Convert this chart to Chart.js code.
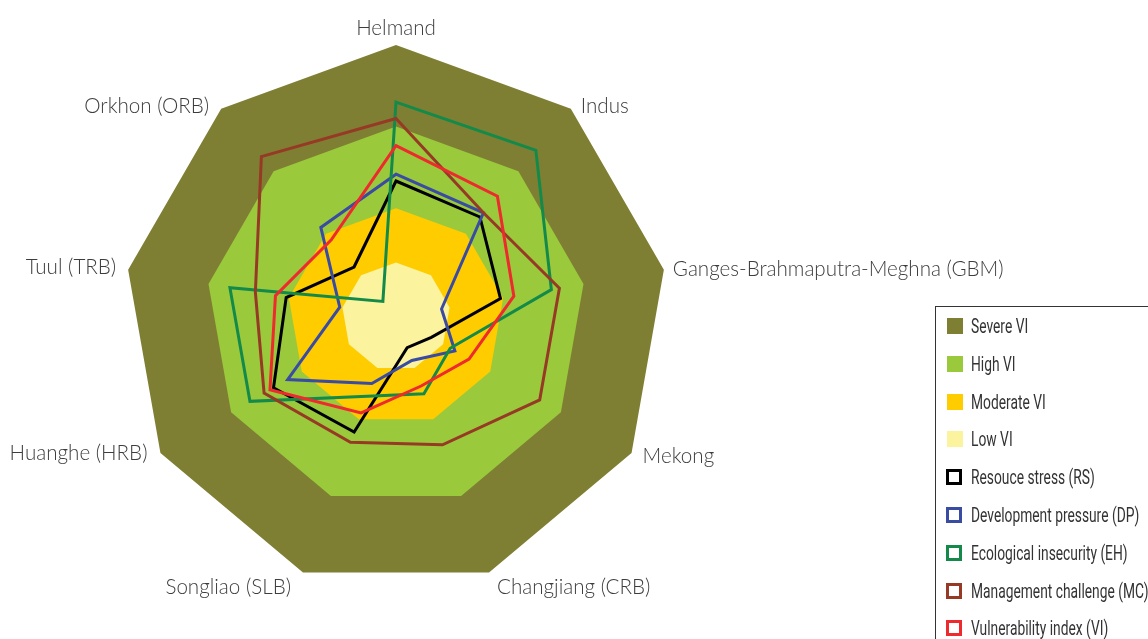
<!DOCTYPE html>
<html>
<head>
<meta charset="utf-8">
<script src="https://cdn.jsdelivr.net/npm/chart.js@4.4.1/dist/chart.umd.min.js"></script>
<style>
  html, body { margin: 0; padding: 0; background: #fff; overflow: hidden; }
  #wrap { position: relative; width: 1148px; height: 639px; }
  #legend {
    position: absolute; left: 935px; top: 306px; width: 300px; height: 400px;
    border: 1px solid #333; box-sizing: border-box;
    font-family: Roboto, 'Liberation Sans', sans-serif;
    font-size: 20px; color: #333;
  }
  .item { position: absolute; left: 11px; height: 20px; line-height: 20px; white-space: nowrap; }
  .sw { position: absolute; left: 0; top: 2px; width: 16px; height: 16px; box-sizing: border-box; }
  .txt { position: absolute; left: 24px; top: 0; transform: scaleX(0.69); transform-origin: 0 50%; }
</style>
</head>
<body>
<div id="wrap">
  <canvas id="vichart"></canvas>
  <div id="legend"></div>
</div>
<script>
const basins = ['Helmand', 'Indus', 'Ganges-Brahmaputra-Meghna (GBM)', 'Mekong', 'Changjiang (CRB)',
  'Songliao (SLB)', 'Huanghe (HRB)', 'Tuul (TRB)', 'Orkhon (ORB)'];

// background bands (vulnerability classes)
const severe   = [1, 1, 1, 1, 1, 1, 1, 1, 1];
const high     = [0.7, 0.7, 0.7, 0.7, 0.7, 0.7, 0.7, 0.7, 0.7];
const moderate = [0.4, 0.4, 0.4, 0.4, 0.4, 0.4, 0.4, 0.4, 0.4];
const low      = [0.2, 0.2, 0.2, 0.2, 0.2, 0.2, 0.2, 0.2, 0.2];

// indicators
const rs = [0.50, 0.48, 0.39, 0.15, 0.12, 0.45, 0.52, 0.41, 0.24];
const dp = [0.525, 0.50, 0.17, 0.25, 0.17, 0.26, 0.46, 0.21, 0.43];
const eh = [0.79, 0.80, 0.58, 0.23, 0.30, 0.31, 0.62, 0.62, 0.075];
const mc = [0.73, 0.50, 0.61, 0.61, 0.50, 0.49, 0.56, 0.525, 0.77];
const vi = [0.63, 0.58, 0.44, 0.31, 0.27, 0.375, 0.535, 0.45, 0.37];

const bandNames = ['Severe VI', 'High VI', 'Moderate VI', 'Low VI'];
const bandColors = ['#7f7f34', '#9aca3c', '#ffcc00', '#fbf39d'];
const lineNames = ['Resouce stress (RS)', 'Development pressure (DP)', 'Ecological insecurity (EH)',
  'Management challenge (MC)', 'Vulnerability index (VI)'];
const lineColors = ['#000000', '#3a4ba3', '#138a4a', '#963a26', '#ee2a2e'];

// label offset from the outer vertex: dx, dy, align
const labelPos = [[0, -17, 'center'], [10, -2, 'left'], [9, 0, 'left'], [11, 3, 'left'], [8, 15, 'left'],
  [-12, 15, 'right'], [-13, 0, 'right'], [-12, -2, 'right'], [-12, -2, 'right']];

const bandData = [severe, high, moderate, low];
const lineData = [rs, dp, eh, mc, vi];

const datasets = [];
bandData.forEach((d, i) => {
  datasets.push({
    label: bandNames[i], data: d, fill: 'origin',
    backgroundColor: bandColors[i], borderColor: bandColors[i], borderWidth: 0,
    order: 20 - i
  });
});
lineData.forEach((d, i) => {
  datasets.push({
    label: lineNames[i], data: d, fill: false,
    borderColor: lineColors[i], backgroundColor: lineColors[i], borderWidth: 3,
    order: 10 - i
  });
});

const axisLabels = {
  id: 'axisLabels',
  afterDatasetsDraw(chart) {
    const s = chart.scales.r;
    const c = chart.ctx;
    c.save();
    c.font = '300 20.6px Lato';
    c.fillStyle = '#3d3d3d';
    c.textBaseline = 'middle';
    chart.data.labels.forEach((lab, i) => {
      const p = s.getPointPosition(i, s.drawingArea);
      const o = labelPos[i];
      c.textAlign = o[2];
      c.fillText(lab, p.x + o[0], p.y + o[1]);
    });
    c.restore();
  }
};

new Chart(document.getElementById('vichart'), {
  type: 'radar',
  data: { labels: basins, datasets: datasets },
  options: {
    responsive: true,
    maintainAspectRatio: false,
    animation: false,
    layout: { padding: { left: 124, right: 480, top: 45, bottom: 50 } },
    elements: {
      point: { radius: 0, hoverRadius: 0 },
      line: { tension: 0, borderJoinStyle: 'miter' }
    },
    plugins: { legend: { display: false }, tooltip: { enabled: false } },
    scales: {
      r: {
        min: 0, max: 1,
        grid: { display: false },
        angleLines: { display: false },
        ticks: { display: false },
        pointLabels: { display: false }
      }
    }
  },
  plugins: [axisLabels]
});

// legend
const leg = document.getElementById('legend');
const names = bandNames.concat(lineNames);
names.forEach((n, i) => {
  const it = document.createElement('div');
  it.className = 'item';
  it.style.top = (9 + i * 37.8) + 'px';
  const sw = document.createElement('div');
  sw.className = 'sw';
  if (i < bandNames.length) {
    sw.style.background = bandColors[i];
  } else {
    sw.style.border = '3px solid ' + lineColors[i - bandNames.length];
    sw.style.background = '#fff';
    sw.style.left = '-1px';
  }
  const tx = document.createElement('span');
  tx.className = 'txt';
  tx.textContent = n;
  it.appendChild(sw);
  it.appendChild(tx);
  leg.appendChild(it);
});
</script>
</body>
</html>
